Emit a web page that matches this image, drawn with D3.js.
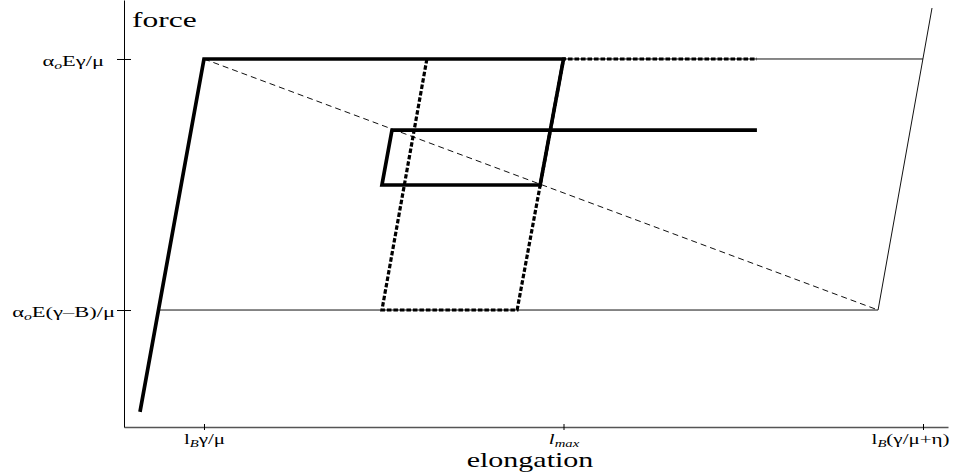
<!DOCTYPE html>
<html>
<head>
<meta charset="utf-8">
<script src="https://cdn.jsdelivr.net/npm/d3@7"></script>
<style>
  html, body { margin: 0; padding: 0; background: #fff; }
  svg { display: block; font-family: "Liberation Serif", "Times New Roman", serif; }
</style>
</head>
<body>
<svg id="chart" width="960" height="474"></svg>
<script>
// Elongation ticks: l_B·γ/μ, l_max, l_B(γ/μ+η)
const xTicks = [1, 2, 3];
const xTickLabels = [
  [{ t: "l" }, { t: "B", sub: true }, { t: "γ/μ" }],
  [{ t: "l", it: true }, { t: "max", sub: true }],
  [{ t: "l" }, { t: "B", sub: true }, { t: "(γ/μ+η)" }]
];

// Force ticks: α_o E(γ−B)/μ and α_o Eγ/μ
const yTicks = [0, 1];
const yTickLabels = [
  [{ t: "α" }, { t: "o", sub: true }, { t: "E(γ–B)/μ" }],
  [{ t: "α" }, { t: "o", sub: true }, { t: "Eγ/μ" }]
];

// Loading / unloading / reloading cycle (thick solid)
const cycleSolid = [
  [0.822, -0.406], [1, 1], [2, 1], [1.935, 0.498],
  [1.495, 0.498], [1.523, 0.717], [2.538, 0.717]
];
// Alternative cycle (thick dotted)
const cycleDotted = [
  [1.62, 1], [1.495, 0], [1.871, 0], [2, 1], [2.538, 1]
];
// Softening branch (thin dashed)
const softening = [[1, 1], [2.875, 0]];
// Reference lines (thin solid)
const upperLevel = [[1, 1], [3, 1]];
const lowerLevel = [[0.873, 0], [2.875, 0]];
const hardening = [[2.875, 0], [3.025, 1.203]];

const svg = d3.select("#chart");
const STRETCH = 1.5;

const x = d3.scaleLinear().domain([0.7775, 3.0695]).range([124, 948]);
const y = d3.scaleLinear().domain([-0.466, 1.235]).range([427, 0]);

const line = d3.line().x(d => x(d[0])).y(d => y(d[1]));

function fillLabel(textSel, parts, size) {
  textSel.text(null);
  let shifted = false;
  parts.forEach(p => {
    const ts = textSel.append("tspan").text(p.t);
    if (p.sub) {
      ts.attr("font-size", size * 0.7).attr("font-style", "italic").attr("dy", size * 0.2);
      shifted = true;
    } else {
      if (shifted) { ts.attr("dy", -size * 0.2); shifted = false; }
      if (p.it) ts.attr("font-style", "italic");
    }
  });
}

// Thin reference lines
[upperLevel, lowerLevel, hardening].forEach(seg => {
  svg.append("path").attr("d", line(seg))
    .attr("fill", "none").attr("stroke", "#111").attr("stroke-width", 1);
});

// Softening branch
svg.append("path").attr("d", line(softening))
  .attr("fill", "none").attr("stroke", "#111").attr("stroke-width", 1)
  .attr("stroke-dasharray", "6,4");

// Dotted cycle
svg.append("path").attr("d", line(cycleDotted))
  .attr("fill", "none").attr("stroke", "#000").attr("stroke-width", 3.2)
  .attr("stroke-dasharray", "4.5,2").attr("stroke-linejoin", "miter");

// Solid cycle
svg.append("path").attr("d", line(cycleSolid))
  .attr("fill", "none").attr("stroke", "#000").attr("stroke-width", 3.7)
  .attr("stroke-linejoin", "miter");

// X axis
const xAxis = d3.axisBottom(x).tickValues(xTicks).tickSizeInner(3).tickSizeOuter(0).tickPadding(4);
const gx = svg.append("g").attr("transform", `translate(0,${y.range()[0]})`).call(xAxis);
gx.select(".domain").attr("stroke", "#555").attr("stroke-width", 1.4);
gx.selectAll(".tick line").attr("y1", -3).attr("y2", 3).attr("stroke", "#000");
gx.selectAll(".tick text").each(function (d, i) {
  const t = d3.select(this)
    .attr("font-family", "Liberation Serif, serif")
    .attr("font-size", 14).attr("fill", "#000")
    .attr("transform", `scale(${STRETCH},1)`);
  fillLabel(t, xTickLabels[i], 14);
  if (i === xTicks.length - 1) {
    t.attr("text-anchor", "end").attr("x", (x.range()[1] + 1 - x(d)) / STRETCH);
  }
});

// Y axis
const yAxis = d3.axisLeft(y).tickValues(yTicks).tickSizeInner(7).tickSizeOuter(0).tickPadding(2);
const gy = svg.append("g").attr("transform", `translate(${x.range()[0]},0)`).call(yAxis);
gy.select(".domain").attr("stroke", "#000").attr("stroke-width", 1);
gy.selectAll(".tick line").attr("x1", -7).attr("x2", 7).attr("stroke", "#000");
const yLabelGap = [9, 20];
gy.selectAll(".tick text").each(function (d, i) {
  const t = d3.select(this)
    .attr("font-family", "Liberation Serif, serif")
    .attr("font-size", 15).attr("fill", "#000")
    .attr("dy", "0.42em")
    .attr("x", -yLabelGap[i] / STRETCH)
    .attr("transform", `scale(${STRETCH},1)`);
  fillLabel(t, yTickLabels[i], 15);
});

// Axis titles
svg.append("text")
  .attr("transform", `translate(132,27) scale(${STRETCH},1)`)
  .attr("font-size", 21).attr("fill", "#000")
  .text("force");

svg.append("text")
  .attr("transform", `translate(530,467) scale(${STRETCH},1)`)
  .attr("text-anchor", "middle")
  .attr("font-size", 20).attr("fill", "#000")
  .text("elongation");
</script>
</body>
</html>
